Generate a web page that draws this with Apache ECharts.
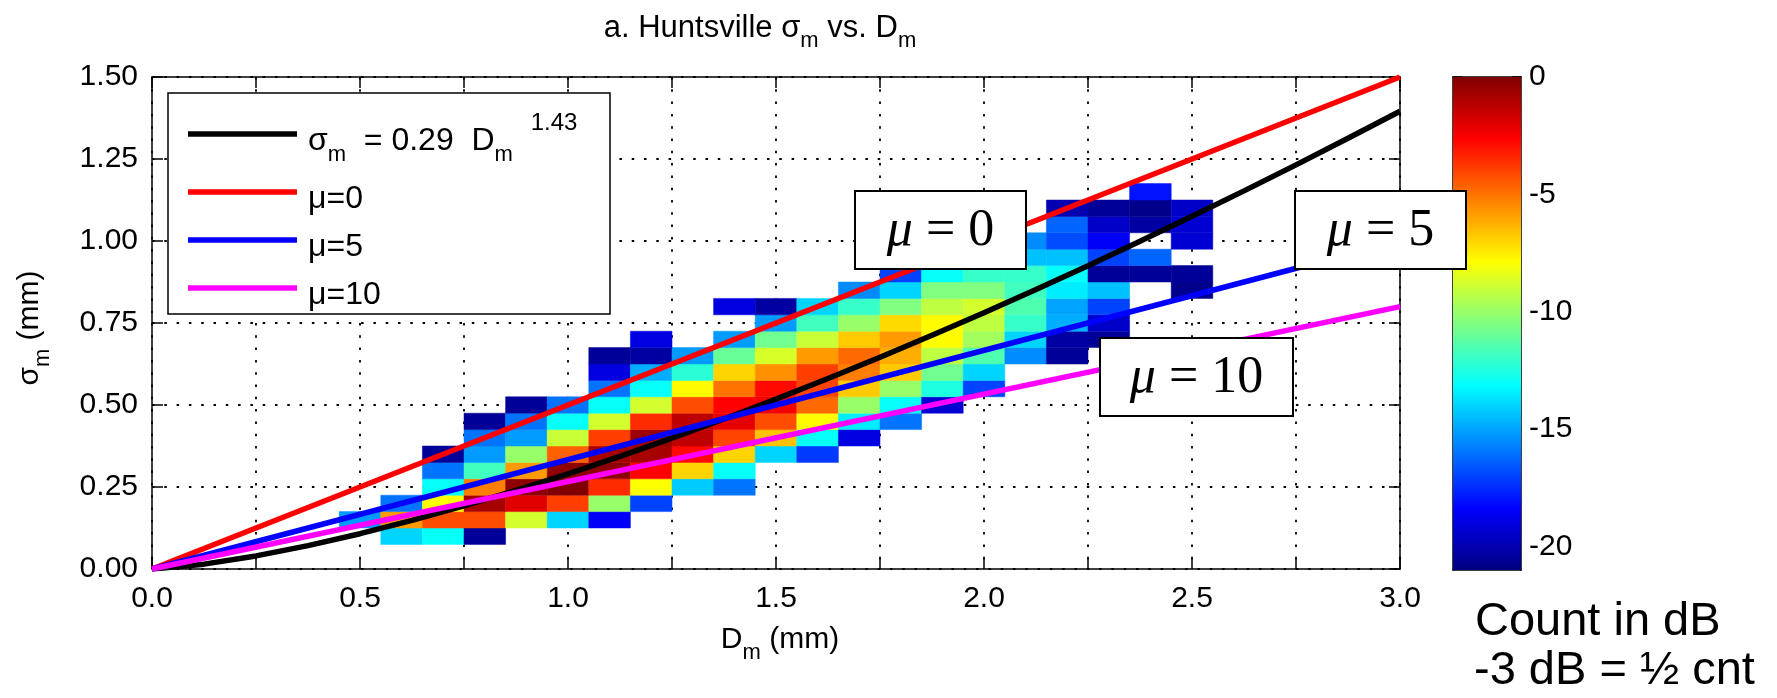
<!DOCTYPE html>
<html>
<head>
<meta charset="utf-8">
<script src="https://cdn.jsdelivr.net/npm/echarts@6/dist/echarts.min.js"></script>
<style>
  html, body { margin: 0; padding: 0; background: #fff; }
  #chart { width: 1777px; height: 698px; }
</style>
</head>
<body>
<div id="chart"></div>
<script>
// Histogram bin centres (mm)
const dmBins = [0.5, 0.6, 0.7, 0.8, 0.9, 1.0, 1.1, 1.2, 1.3, 1.4, 1.5, 1.6, 1.7, 1.8, 1.9, 2.0, 2.1, 2.2, 2.3, 2.4, 2.5];
const sigmaBins = [0.10, 0.15, 0.20, 0.25, 0.30, 0.35, 0.40, 0.45, 0.50, 0.55, 0.60, 0.65, 0.70, 0.75, 0.80, 0.85, 0.90, 0.95, 1.00, 1.05, 1.10, 1.15];
const DM_STEP = 0.1;
const SIGMA_STEP = 0.05;

const N = null;
// Count in dB: one row per sigma bin (bottom to top), one column per Dm bin
const countDb = [
  [N, -14, -13, -20.5, N, N, N, N, N, N, N, N, N, N, N, N, N, N, N, N, N],
  [-15.2, -5.8, -4.2, -4.2, -8.8, -14, -18.5, N, N, N, N, N, N, N, N, N, N, N, N, N, N],
  [N, -16, -7.9, -0.8, -2.0, -3.9, -10, -17, N, N, N, N, N, N, N, N, N, N, N, N, N],
  [N, N, -13, -5.2, -0.3, 0, -3.5, -7.9, -14.2, -16, N, N, N, N, N, N, N, N, N, N, N],
  [N, N, -16, -11.8, -5.8, -0.3, -0.3, -2.6, -7, -13, N, N, N, N, N, N, N, N, N, N, N],
  [N, N, -20.5, -15.2, -10, -4.6, -0.8, -0.8, -2.8, -7, -14, -17.2, N, N, N, N, N, N, N, N, N],
  [N, N, N, -16, -15.2, -9, -3.9, -0.6, -1.3, -4, -6.6, -13, -19, N, N, N, N, N, N, N, N],
  [N, N, N, -20.5, -16, -13, -8.8, -3.5, -1.3, -2.1, -4.2, -7.8, -13.5, -16, N, N, N, N, N, N, N],
  [N, N, N, N, -20.5, -16, -13, -8.8, -4.2, -2.6, -2.4, -4.8, -10, -13, -19.3, N, N, N, N, N, N],
  [N, N, N, N, N, N, -16, -13, -7.8, -5, -2.8, -4, -6.8, -10, -12.5, -17, N, N, N, N, N],
  [N, N, N, N, N, N, -19, -14.8, -12.3, -7, -5.6, -3.9, -5.2, -6.8, -10.8, -14, N, N, N, N, N],
  [N, N, N, N, N, N, -20.5, -20.3, -15.2, -11, -8.7, -5.8, -4.8, -6.2, -9.2, -11.5, -15.5, -20.5, N, N, N],
  [N, N, N, N, N, N, N, -19, N, -15.2, -10.8, -9, -6.8, -5.8, -7.8, -9.8, -14, -20.3, -20.5, N, N],
  [N, N, N, N, N, N, N, N, N, N, -15.2, -11.8, -10, -7.1, -7.8, -9.2, -12, -14.8, -19.5, N, N],
  [N, N, N, N, N, N, N, N, N, -19, -20.3, -14, -12, -10.5, -9.2, -8.8, -11.5, -15, -17, N, N],
  [N, N, N, N, N, N, N, N, N, N, N, N, -15.5, -14, -10.5, -10.5, -11.8, -13.5, -14.4, N, -20.7],
  [N, N, N, N, N, N, N, N, N, N, N, N, N, -17, -13, -12, -12, -13, -20.5, -20.5, -20.5],
  [N, N, N, N, N, N, N, N, N, N, N, N, N, -20, -17, -14, -14.4, -14.4, -17, -16.3, N],
  [N, N, N, N, N, N, N, N, N, N, N, N, N, N, N, -18.5, -15.5, -16.8, -18.5, N, -19.3],
  [N, N, N, N, N, N, N, N, N, N, N, N, N, N, N, N, N, -16.3, -19.5, -20.3, -19.3],
  [N, N, N, N, N, N, N, N, N, N, N, N, N, N, N, N, N, -20, -20.5, -20.8, -19.5],
  [N, N, N, N, N, N, N, N, N, N, N, N, N, N, N, N, N, N, N, -18, N]
];

// Power-law fit sigma_m = 0.29 Dm^1.43, tabulated
const fitDm    = [0, 0.125, 0.25, 0.375, 0.5, 0.625, 0.75, 0.875, 1.0, 1.125, 1.25, 1.375, 1.5, 1.625, 1.75, 1.875, 2.0, 2.125, 2.25, 2.375, 2.5, 2.625, 2.75, 2.875, 3.0];
const fitSigma = [0, 0.0148, 0.0399, 0.0713, 0.1076, 0.1481, 0.1922, 0.2396, 0.29, 0.3432, 0.399, 0.4573, 0.5179, 0.5807, 0.6456, 0.7125, 0.7814, 0.8522, 0.9247, 0.9991, 1.0752, 1.1529, 1.2321, 1.3131, 1.3954];

// Gamma-shape reference lines (endpoints)
const mu0Dm = [0, 3.0],  mu0Sigma = [0, 1.5];
const mu5Dm = [0, 3.0],  mu5Sigma = [0, 1.0];
const mu10Dm = [0, 3.0], mu10Sigma = [0, 0.80];

// Colour scale range and ticks (dB)
const dbRange = [-21, 0];
const dbTicks = [0, -5, -10, -15, -20];

const FONT = '"Liberation Sans", Arial, Helvetica, sans-serif';
const SERIF = '"Liberation Serif", "DejaVu Serif", serif';
const JET = ['#000080', '#0000ff', '#0080ff', '#00ffff', '#80ff80', '#ffff00', '#ff8000', '#ff0000', '#800000'];

const cells = [];
countDb.forEach((row, i) => row.forEach((v, j) => {
  if (v !== null) cells.push([dmBins[j], sigmaBins[i], v]);
}));
const zip = (xs, ys) => xs.map((x, i) => [x, ys[i]]);

// Rich-text styles with subscript (b) and superscript (p) tokens.
// C is the offset from the block top to the centre of the main text.
function subSupRich(F, f, fp) {
  const fs = fp || f;
  const C = fs / 2 + 0.55 * F;
  const base = { fontFamily: FONT, fill: '#000', verticalAlign: 'top' };
  return {
    C: C,
    rich: {
      n: Object.assign({}, base, { fontSize: F, lineHeight: F, padding: [C - F / 2, 0, 0, 0] }),
      b: Object.assign({}, base, { fontSize: f, lineHeight: f, padding: [C + 0.42 * F - f / 2, 0, 0, 0] }),
      p: Object.assign({}, base, { fontSize: fs, lineHeight: fs, padding: [0, 0, 0, 0] })
    }
  };
}

const titleRich = subSupRich(31, 22);
const axisRich = subSupRich(30, 22);
const legRich = subSupRich(32, 22, 24);

const PLOT = { left: 152, top: 77, width: 1248, height: 492 };
const CBAR = { left: 1453, top: 77, width: 68, height: 493 };

const dotted = { color: '#000', width: 1.8, type: [2.5, 9.8] };
const axisLineStyle = { color: '#000', width: 1.5 };

function muBox(x, y, w, h, value) {
  return {
    type: 'group', z: 100,
    children: [
      { type: 'rect', z: 100, shape: { x: x, y: y, width: w, height: h },
        style: { fill: '#fff', stroke: '#000', lineWidth: 2 } },
      { type: 'text', z: 101,
        style: {
          x: x + w / 2, y: y + h / 2 + 1,
          text: '{i|μ}{r| = ' + value + '}',
          textAlign: 'center', textVerticalAlign: 'middle',
          rich: {
            i: { fontFamily: SERIF, fontStyle: 'italic', fontSize: 52, fill: '#000' },
            r: { fontFamily: SERIF, fontSize: 52, fill: '#000' }
          }
        } }
    ]
  };
}

const LEG = { x: 168, y: 93, w: 442, h: 221, lineX0: 188, lineX1: 297, textX: 308 };
const legendItems = [
  { y: 134, color: '#000000' },
  { y: 192, color: '#ff0000', label: 'μ=0' },
  { y: 240, color: '#0000ff', label: 'μ=5' },
  { y: 288, color: '#ff00ff', label: 'μ=10' }
];

const legendChildren = [
  { type: 'rect', z: 100, shape: { x: LEG.x, y: LEG.y, width: LEG.w, height: LEG.h },
    style: { fill: '#fff', stroke: '#000', lineWidth: 1.5 } }
];
legendItems.forEach((it) => {
  legendChildren.push({ type: 'line', z: 101,
    shape: { x1: LEG.lineX0, y1: it.y, x2: LEG.lineX1, y2: it.y },
    style: { stroke: it.color, lineWidth: 5.5 } });
  if (it.label) {
    legendChildren.push({ type: 'text', z: 101,
      style: { x: LEG.textX, y: it.y + 7, text: it.label, fontFamily: FONT, fontSize: 32,
               fill: '#000', textAlign: 'left', textVerticalAlign: 'middle' } });
  }
});
legendChildren.push({ type: 'text', z: 101,
  style: { x: LEG.textX, y: 141 - legRich.C,
           text: '{n|σ}{b|m}{n|  = 0.29  D}{b|m}{n|  }{p|1.43}',
           textAlign: 'left', textVerticalAlign: 'top', rich: legRich.rich } });

const chart = echarts.init(document.getElementById('chart'));
chart.setOption({
  animation: false,
  backgroundColor: '#fff',
  grid: [
    Object.assign({ containLabel: false }, PLOT),
    Object.assign({ containLabel: false }, CBAR)
  ],
  xAxis: [
    { type: 'value', gridIndex: 0, min: 0, max: 3, interval: 0.25, position: 'bottom',
      axisLine: { show: true, onZero: false, lineStyle: axisLineStyle },
      axisTick: { show: true, inside: true, length: 11, lineStyle: axisLineStyle },
      axisLabel: { fontFamily: FONT, fontSize: 30, color: '#000', margin: 15,
        formatter: (v) => (Math.round(v * 100) % 50 === 0 ? v.toFixed(1) : '') },
      splitLine: { show: true, lineStyle: dotted } },
    { type: 'value', gridIndex: 0, min: 0, max: 3, interval: 0.25, position: 'top',
      axisLine: { show: true, onZero: false, lineStyle: axisLineStyle },
      axisTick: { show: true, inside: true, length: 11, lineStyle: axisLineStyle },
      axisLabel: { show: false }, splitLine: { show: false } },
    { type: 'value', gridIndex: 1, min: 0, max: 1, position: 'bottom',
      axisLine: { show: true, onZero: false, lineStyle: axisLineStyle },
      axisTick: { show: false }, axisLabel: { show: false }, splitLine: { show: false } },
    { type: 'value', gridIndex: 1, min: 0, max: 1, position: 'top',
      axisLine: { show: true, onZero: false, lineStyle: axisLineStyle },
      axisTick: { show: false }, axisLabel: { show: false }, splitLine: { show: false } }
  ],
  yAxis: [
    { type: 'value', gridIndex: 0, min: 0, max: 1.5, interval: 0.25, position: 'left',
      axisLine: { show: true, onZero: false, lineStyle: axisLineStyle },
      axisTick: { show: true, inside: true, length: 11, lineStyle: axisLineStyle },
      axisLabel: { fontFamily: FONT, fontSize: 30, color: '#000', margin: 14,
        formatter: (v) => v.toFixed(2) },
      splitLine: { show: true, lineStyle: dotted } },
    { type: 'value', gridIndex: 0, min: 0, max: 1.5, interval: 0.25, position: 'right',
      axisLine: { show: true, onZero: false, lineStyle: axisLineStyle },
      axisTick: { show: true, inside: true, length: 11, lineStyle: axisLineStyle },
      axisLabel: { show: false }, splitLine: { show: false } },
    { type: 'value', gridIndex: 1, min: dbRange[0], max: dbRange[1], position: 'right',
      axisLine: { show: true, onZero: false, lineStyle: axisLineStyle },
      axisTick: { show: true, inside: true, length: 9, lineStyle: axisLineStyle, customValues: dbTicks },
      axisLabel: { fontFamily: FONT, fontSize: 30, color: '#000', margin: 8, customValues: dbTicks },
      splitLine: { show: false } },
    { type: 'value', gridIndex: 1, min: dbRange[0], max: dbRange[1], position: 'left',
      axisLine: { show: true, onZero: false, lineStyle: axisLineStyle },
      axisTick: { show: true, inside: true, length: 9, lineStyle: axisLineStyle, customValues: dbTicks },
      axisLabel: { show: false }, splitLine: { show: false } }
  ],
  visualMap: {
    type: 'continuous', show: false, seriesIndex: 0, dimension: 2,
    min: dbRange[0], max: dbRange[1], inRange: { color: JET }
  },
  series: [
    { // 2-D histogram cells
      type: 'custom', xAxisIndex: 0, yAxisIndex: 0, z: 1,
      encode: { x: 0, y: 1 },
      data: cells,
      renderItem: (params, api) => {
        const d = api.value(0), s = api.value(1);
        const p0 = api.coord([d - DM_STEP / 2, s + SIGMA_STEP / 2]);
        const p1 = api.coord([d + DM_STEP / 2, s - SIGMA_STEP / 2]);
        const c = api.visual('color');
        return { type: 'rect',
          shape: { x: p0[0], y: p0[1], width: p1[0] - p0[0], height: p1[1] - p0[1] },
          style: { fill: c, stroke: c, lineWidth: 0.5 } };
      }
    },
    { type: 'line', name: 'fit', xAxisIndex: 0, yAxisIndex: 0, z: 3, showSymbol: false,
      data: zip(fitDm, fitSigma), lineStyle: { color: '#000', width: 5.5 } },
    { type: 'line', name: 'mu0', xAxisIndex: 0, yAxisIndex: 0, z: 4, showSymbol: false,
      data: zip(mu0Dm, mu0Sigma), lineStyle: { color: '#ff0000', width: 5.5 } },
    { type: 'line', name: 'mu5', xAxisIndex: 0, yAxisIndex: 0, z: 5, showSymbol: false,
      data: zip(mu5Dm, mu5Sigma), lineStyle: { color: '#0000ff', width: 5.5 } },
    { type: 'line', name: 'mu10', xAxisIndex: 0, yAxisIndex: 0, z: 6, showSymbol: false,
      data: zip(mu10Dm, mu10Sigma), lineStyle: { color: '#ff00ff', width: 5.5 } },
    { // colour bar
      type: 'custom', xAxisIndex: 2, yAxisIndex: 2, z: 1,
      encode: { x: [0, 2], y: [1, 3] },
      data: [[0, dbRange[0], 1, dbRange[1]]],
      renderItem: (params, api) => {
        const p0 = api.coord([api.value(0), api.value(3)]);
        const p1 = api.coord([api.value(2), api.value(1)]);
        return { type: 'rect',
          shape: { x: p0[0], y: p0[1], width: p1[0] - p0[0], height: p1[1] - p0[1] },
          style: { fill: { type: 'linear', x: 0, y: 1, x2: 0, y2: 0,
            colorStops: JET.map((c, i) => ({ offset: i / (JET.length - 1), color: c })) } } };
      }
    }
  ],
  graphic: [
    { type: 'text', z: 100,
      style: { x: 760, y: 28 - titleRich.C,
               text: '{n|a. Huntsville }{n|σ}{b|m}{n| vs. D}{b|m}',
               textAlign: 'center', textVerticalAlign: 'top', rich: titleRich.rich } },
    { type: 'text', z: 100,
      style: { x: 780, y: 640 - axisRich.C, text: '{n|D}{b|m}{n| (mm)}',
               textAlign: 'center', textVerticalAlign: 'top', rich: axisRich.rich } },
    { type: 'text', z: 100, x: 30 - axisRich.C, y: 328, rotation: Math.PI / 2,
      style: { x: 0, y: 0, text: '{n|σ}{b|m}{n| (mm)}',
               textAlign: 'center', textVerticalAlign: 'top', rich: axisRich.rich } },
    { type: 'group', z: 100, children: legendChildren },
    muBox(855, 191, 171, 78, '0'),
    muBox(1295, 191, 171, 78, '5'),
    muBox(1100, 338, 193, 78, '10'),
    { type: 'text', z: 100,
      style: { x: 1475, y: 622, text: 'Count in dB', fontFamily: FONT, fontSize: 47,
               fill: '#000', textAlign: 'left', textVerticalAlign: 'middle' } },
    { type: 'text', z: 100,
      style: { x: 1474, y: 671, text: '-3 dB = ½ cnt', fontFamily: FONT, fontSize: 47,
               fill: '#000', textAlign: 'left', textVerticalAlign: 'middle' } }
  ]
});
</script>
</body>
</html>
